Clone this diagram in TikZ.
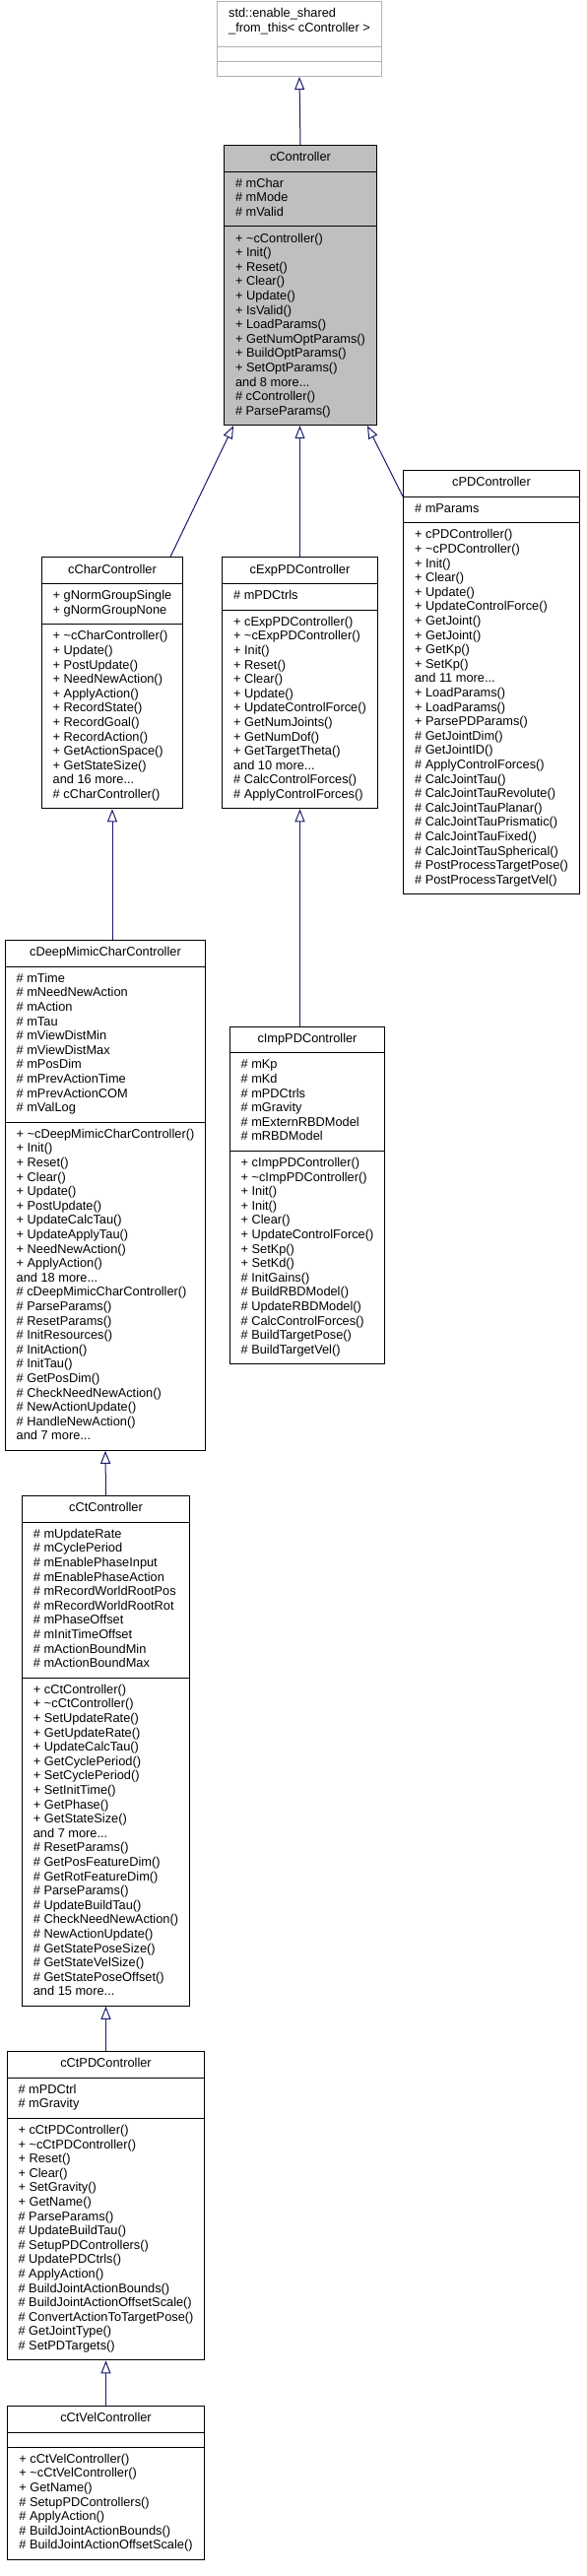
\documentclass[tikz,border=0pt]{standalone}
\usepackage{fontspec}
\setmainfont{Liberation Sans}
\usetikzlibrary{arrows.meta, shapes.multipart, backgrounds}

\definecolor{edgeblue}{HTML}{191970}
\newcommand{\memb}[1]{\begin{tabular}{@{}l@{}}#1\end{tabular}}

\begin{document}
\begin{tikzpicture}[x=1pt, y=1pt,
    background rectangle/.style={fill=white},
    show background rectangle,
    classbox/.style={draw=black, fill=white, line width=1pt,
      rectangle split, rectangle split parts=3,
      rectangle split part align={center,left,left},
      inner xsep=11.5pt, inner ysep=5.5pt, anchor=north,
      font=\fontsize{12.8}{14.6}\selectfont},
    extbox/.style={classbox, draw=black!30},
    mainbox/.style={classbox, fill=black!25},
    inherit/.style={draw=edgeblue, line width=1pt,
      -{Triangle[open, length=13pt, width=10pt]}}]
    \useasboundingbox (0,0) rectangle (596,-2615);

    % The base class and the controller itself
    \node[extbox] (enableShared) at (304,-1)
      {\memb{std::enable\_shared\\\_from\_this< cController >\rule[-9.2pt]{0pt}{9.2pt}}
       \nodepart{second}\memb{}
       \nodepart{third}\memb{}};
    \node[mainbox] (cController) at (305,-147)
      {\memb{cController}
       \nodepart{second}\memb{\# mChar\\\# mMode\\\# mValid}
       \nodepart{third}\memb{+ \textasciitilde cController()\\+ Init()\\+ Reset()\\+ Clear()\\
         + Update()\\+ IsValid()\\+ LoadParams()\\+ GetNumOptParams()\\+ BuildOptParams()\\
         + SetOptParams()\\and 8 more...\\\# cController()\\\# ParseParams()}};

    % First row of derived classes
    \node[classbox] (cCharController) at (114,-565.3)
      {\memb{cCharController}
       \nodepart{second}\memb{+ gNormGroupSingle\\+ gNormGroupNone}
       \nodepart{third}\memb{+ \textasciitilde cCharController()\\+ Update()\\+ PostUpdate()\\
         + NeedNewAction()\\+ ApplyAction()\\+ RecordState()\\+ RecordGoal()\\+ RecordAction()\\
         + GetActionSpace()\\+ GetStateSize()\\and 16 more...\\\# cCharController()}};
    \node[classbox] (cExpPDController) at (304.5,-565.3)
      {\memb{cExpPDController}
       \nodepart{second}\memb{\# mPDCtrls}
       \nodepart{third}\memb{+ cExpPDController()\\+ \textasciitilde cExpPDController()\\+ Init()\\
         + Reset()\\+ Clear()\\+ Update()\\+ UpdateControlForce()\\+ GetNumJoints()\\
         + GetNumDof()\\+ GetTargetTheta()\\and 10 more...\\\# CalcControlForces()\\
         \# ApplyControlForces()}};
    \node[classbox] (cPDController) at (499,-477)
      {\memb{cPDController}
       \nodepart{second}\memb{\# mParams}
       \nodepart{third}\memb{+ cPDController()\\+ \textasciitilde cPDController()\\+ Init()\\
         + Clear()\\+ Update()\\+ UpdateControlForce()\\+ GetJoint()\\+ GetJoint()\\+ GetKp()\\
         + SetKp()\\and 11 more...\\+ LoadParams()\\+ LoadParams()\\+ ParsePDParams()\\
         \# GetJointDim()\\\# GetJointID()\\\# ApplyControlForces()\\\# CalcJointTau()\\
         \# CalcJointTauRevolute()\\\# CalcJointTauPlanar()\\\# CalcJointTauPrismatic()\\
         \# CalcJointTauFixed()\\\# CalcJointTauSpherical()\\\# PostProcessTargetPose()\\
         \# PostProcessTargetVel()}};

    % Second row
    \node[classbox] (cDeepMimicCharController) at (107,-954)
      {\memb{cDeepMimicCharController}
       \nodepart{second}\memb{\# mTime\\\# mNeedNewAction\\\# mAction\\\# mTau\\
         \# mViewDistMin\\\# mViewDistMax\\\# mPosDim\\\# mPrevActionTime\\
         \# mPrevActionCOM\\\# mValLog}
       \nodepart{third}\memb{+ \textasciitilde cDeepMimicCharController()\\+ Init()\\+ Reset()\\
         + Clear()\\+ Update()\\+ PostUpdate()\\+ UpdateCalcTau()\\+ UpdateApplyTau()\\
         + NeedNewAction()\\+ ApplyAction()\\and 18 more...\\\# cDeepMimicCharController()\\
         \# ParseParams()\\\# ResetParams()\\\# InitResources()\\\# InitAction()\\\# InitTau()\\
         \# GetPosDim()\\\# CheckNeedNewAction()\\\# NewActionUpdate()\\\# HandleNewAction()\\
         and 7 more...}};
    \node[classbox] (cImpPDController) at (312,-1041.5)
      {\memb{cImpPDController}
       \nodepart{second}\memb{\# mKp\\\# mKd\\\# mPDCtrls\\\# mGravity\\\# mExternRBDModel\\
         \# mRBDModel}
       \nodepart{third}\memb{+ cImpPDController()\\+ \textasciitilde cImpPDController()\\+ Init()\\
         + Init()\\+ Clear()\\+ UpdateControlForce()\\+ SetKp()\\+ SetKd()\\\# InitGains()\\
         \# BuildRBDModel()\\\# UpdateRBDModel()\\\# CalcControlForces()\\\# BuildTargetPose()\\
         \# BuildTargetVel()}};

    % The chain below
    \node[classbox] (cCtController) at (107.5,-1518)
      {\memb{cCtController}
       \nodepart{second}\memb{\# mUpdateRate\\\# mCyclePeriod\\\# mEnablePhaseInput\\
         \# mEnablePhaseAction\\\# mRecordWorldRootPos\\\# mRecordWorldRootRot\\
         \# mPhaseOffset\\\# mInitTimeOffset\\\# mActionBoundMin\\\# mActionBoundMax}
       \nodepart{third}\memb{+ cCtController()\\+ \textasciitilde cCtController()\\+ SetUpdateRate()\\
         + GetUpdateRate()\\+ UpdateCalcTau()\\+ GetCyclePeriod()\\+ SetCyclePeriod()\\
         + SetInitTime()\\+ GetPhase()\\+ GetStateSize()\\and 7 more...\\\# ResetParams()\\
         \# GetPosFeatureDim()\\\# GetRotFeatureDim()\\\# ParseParams()\\\# UpdateBuildTau()\\
         \# CheckNeedNewAction()\\\# NewActionUpdate()\\\# GetStatePoseSize()\\
         \# GetStateVelSize()\\\# GetStatePoseOffset()\\and 15 more...}};
    \node[classbox] (cCtPDController) at (107.5,-2082)
      {\memb{cCtPDController}
       \nodepart{second}\memb{\# mPDCtrl\\\# mGravity}
       \nodepart{third}\memb{+ cCtPDController()\\+ \textasciitilde cCtPDController()\\+ Reset()\\
         + Clear()\\+ SetGravity()\\+ GetName()\\\# ParseParams()\\\# UpdateBuildTau()\\
         \# SetupPDControllers()\\\# UpdatePDCtrls()\\\# ApplyAction()\\
         \# BuildJointActionBounds()\\\# BuildJointActionOffsetScale()\\
         \# ConvertActionToTargetPose()\\\# GetJointType()\\\# SetPDTargets()}};
    \node[classbox] (cCtVelController) at (107.5,-2442)
      {\memb{cCtVelController}
       \nodepart{second}\memb{}
       \nodepart{third}\memb{+ cCtVelController()\\+ \textasciitilde cCtVelController()\\
         + GetName()\\\# SetupPDControllers()\\\# ApplyAction()\\
         \# BuildJointActionBounds()\\\# BuildJointActionOffsetScale()}};

    % Inheritance edges
    \draw[inherit] (cController.north) -- (enableShared.south);
    \draw[inherit] ([xshift=59pt]cCharController.north) -- ([xshift=10pt]cController.south west);
    \draw[inherit] (cExpPDController.north) -- (cExpPDController.north |- cController.south);
    \draw[inherit] (cPDController.text split west) -- ([xshift=-10pt]cController.south east);
    \draw[inherit] (cDeepMimicCharController.north -| cCharController.south) -- (cCharController.south);
    \draw[inherit] (cImpPDController.north -| cExpPDController.south) -- (cExpPDController.south);
    \draw[inherit] (cCtController.north) -- (cDeepMimicCharController.south);
    \draw[inherit] (cCtPDController.north) -- (cCtController.south);
    \draw[inherit] (cCtVelController.north) -- (cCtPDController.south);
  \end{tikzpicture}
\end{document}
